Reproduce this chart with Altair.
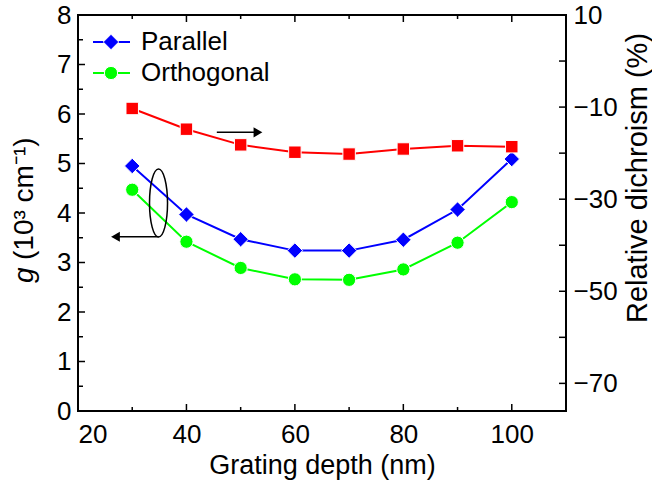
import altair as alt
import pandas as pd

# Measured series
depth = [30, 40, 50, 60, 70, 80, 90, 100]
parallel = [4.95, 3.97, 3.47, 3.24, 3.24, 3.46, 4.07, 5.09]
orthogonal = [4.47, 3.42, 2.89, 2.66, 2.65, 2.86, 3.40, 4.22]
dichroism = [-10.3, -14.8, -18.2, -19.8, -20.2, -19.1, -18.4, -18.6]

legend_labels = ["Parallel", "Orthogonal"]

# Axis ticks
x_major = [20, 40, 60, 80, 100]
x_minor = [30, 50, 70, 90]
g_major = [0, 1, 2, 3, 4, 5, 6, 7, 8]
g_minor = [0.5, 1.5, 2.5, 3.5, 4.5, 5.5, 6.5, 7.5]
rd_ticks = [10, 0, -10, -20, -30, -40, -50, -60, -70]
rd_labels = [10, -10, -30, -50, -70]

W, H = 488, 396
FONT = "Liberation Sans"
FS = 26
BLUE, GREEN, RED = "#0000ff", "#00ff00", "#ff0000"

G_MIN, G_MAX = 0, 8
xs = alt.Scale(domain=[20, 110], nice=False, zero=False)
gs = alt.Scale(domain=[G_MIN, G_MAX], nice=False)
rs = alt.Scale(domain=[-76, 10], nice=False, zero=False)

df = pd.DataFrame({"depth": depth, "parallel": parallel,
                   "orthogonal": orthogonal, "dichroism": dichroism})

x_axis = alt.Axis(values=x_major, ticks=False, domain=False, grid=False,
                  labelFont=FONT, labelFontSize=FS, labelPadding=10, labelColor="black",
                  title="Grating depth (nm)", titleFont=FONT, titleFontSize=27,
                  titleFontWeight="normal", titleColor="black", titlePadding=5)
g_axis = alt.Axis(values=g_major, ticks=False, domain=False, grid=False,
                  labelFont=FONT, labelFontSize=FS, labelPadding=7, labelColor="black",
                  title="")
rd_axis = alt.Axis(orient="right", values=rd_labels, ticks=False, domain=False, grid=False,
                   labelFont=FONT, labelFontSize=FS, labelPadding=7, labelColor="black",
                   title="")


def xq(field):
    return alt.X(f"{field}:Q", scale=xs, axis=x_axis)


def gq(field):
    return alt.Y(f"{field}:Q", scale=gs, axis=g_axis)


def rq(field):
    return alt.Y(f"{field}:Q", scale=rs, axis=rd_axis)


base = alt.Chart(df)


def series(y, color, shape, size):
    line = base.mark_line(color=color, strokeWidth=2).encode(x=xq("depth"), y=y)
    pts = base.mark_point(shape=shape, filled=True, fill=color, stroke="white",
                          strokeWidth=1, size=size, opacity=1).encode(x=xq("depth"), y=y)
    return line + pts


blue = series(gq("parallel"), BLUE, "diamond", 240)
green = series(gq("orthogonal"), GREEN, "circle", 175)
red = series(rq("dichroism"), RED, "square", 155)

# Inward tick marks on the bottom and top edges, drawn as stroked stub symbols
# (a symbol's path unit is sqrt(size)/2 pixels, so "L0,-2" spans sqrt(size) px)
xt_major = pd.DataFrame({"tx": [float(v) for v in x_major[1:]],
                         "lo": [float(G_MIN)] * (len(x_major) - 1),
                         "hi": [float(G_MAX)] * (len(x_major) - 1)})
xt_minor = pd.DataFrame({"tx": [float(v) for v in x_minor],
                         "lo": [float(G_MIN)] * len(x_minor),
                         "hi": [float(G_MAX)] * len(x_minor)})


def xstubs(data, length):
    up = alt.Chart(data).mark_point(shape="M0,0L0,-2", size=length ** 2, filled=False,
                                    stroke="black", strokeWidth=1.5, opacity=1).encode(
        x=xq("tx"), y=gq("lo"))
    down = alt.Chart(data).mark_point(shape="M0,0L0,2", size=length ** 2, filled=False,
                                      stroke="black", strokeWidth=1.5, opacity=1).encode(
        x=xq("tx"), y=gq("hi"))
    return [up, down]


gt_major = pd.DataFrame({"v": g_major[1:-1]})
gt_minor = pd.DataFrame({"v": g_minor})
rt = pd.DataFrame({"v": rd_ticks[1:]})

tick_layers = xstubs(xt_major, 7) + xstubs(xt_minor, 4) + [
    alt.Chart(gt_major).mark_rule(color="black", strokeWidth=1.5).encode(
        y=gq("v"), x=alt.value(0), x2=alt.value(7)),
    alt.Chart(gt_minor).mark_rule(color="black", strokeWidth=1.5).encode(
        y=gq("v"), x=alt.value(0), x2=alt.value(5)),
]
right_ticks = alt.Chart(rt).mark_rule(color="black", strokeWidth=1.5).encode(
    y=rq("v"), x=alt.value(W), x2=alt.value(W - 7))

# Left axis title with italic g
g_title = alt.Chart(pd.DataFrame({"t": ["g"]})).mark_text(
    font=FONT, fontSize=28, fontStyle="italic", angle=270, align="left",
    baseline="middle", color="black").encode(
    text="t:N", x=alt.value(-53), y=alt.value(268))
unit_title = alt.Chart(pd.DataFrame({"t": ["(10³ cm⁻¹)"]})).mark_text(
    font=FONT, fontSize=28, angle=270, align="left",
    baseline="middle", color="black").encode(
    text="t:N", x=alt.value(-53), y=alt.value(245))

# Right axis title
rd_title = alt.Chart(pd.DataFrame({"t": ["Relative dichroism (%)"]})).mark_text(
    font=FONT, fontSize=29, angle=270, align="center",
    baseline="middle", color="black").encode(
    text="t:N", x=alt.value(W + 72), y=alt.value(163))

# Legend
leg = []
for i, (lab, col, shp, sz) in enumerate(zip(legend_labels, [BLUE, GREEN],
                                            ["diamond", "circle"], [240, 175])):
    ly = 27 + 31 * i
    one = alt.Chart(pd.DataFrame({"t": [lab]}))
    leg.append(one.mark_rule(color=col, strokeWidth=2).encode(
        x=alt.value(15), x2=alt.value(52), y=alt.value(ly)))
    leg.append(one.mark_point(shape=shp, filled=True, fill=col, stroke="white",
                              strokeWidth=1, size=sz, opacity=1).encode(
        x=alt.value(33), y=alt.value(ly)))
    leg.append(one.mark_text(font=FONT, fontSize=26, align="left", baseline="middle",
                             color="black").encode(
        text="t:N", x=alt.value(63), y=alt.value(ly)))

# Annotations: ellipse around the g curves with arrows to each axis
ann = pd.DataFrame({"x": [34.85], "y": [4.2]})
ellipse = alt.Chart(ann).mark_point(
    shape="M0,-1A0.265,1,0,1,1,0,1A0.265,1,0,1,1,0,-1Z", size=4624,
    filled=False, stroke="black", strokeWidth=1.5, opacity=1).encode(
    x=xq("x"), y=gq("y"))

arrows = pd.DataFrame({"x1": [45.6, 34.85], "x2": [53.0, 27.2],
                       "y": [5.63, 3.52], "head": [53.1, 27.0],
                       "shape": ["triangle-right", "triangle-left"]})
arrow_lines = alt.Chart(arrows).mark_rule(color="black", strokeWidth=1.5).encode(
    x=xq("x1"), x2="x2:Q", y=gq("y"))
arrow_heads = alt.Chart(arrows).mark_point(filled=True, fill="black", stroke="black",
                                           size=45, opacity=1).encode(
    x=xq("head"), y=gq("y"), shape=alt.Shape("shape:N", scale=None))

left = alt.layer(blue, green, *tick_layers, ellipse,
                 arrow_lines, arrow_heads, g_title, unit_title, rd_title, *leg)
right = alt.layer(red, right_ticks)

chart = alt.layer(left, right).resolve_scale(y="independent").properties(
    width=W, height=H, background="white",
    autosize=alt.AutoSizeParams(type="none"),
    padding={"left": 78, "top": 15, "right": 86, "bottom": 76},
).configure_view(stroke="black", strokeWidth=2)

chart.save("out.html", embed_options={"renderer": "svg", "actions": False})
